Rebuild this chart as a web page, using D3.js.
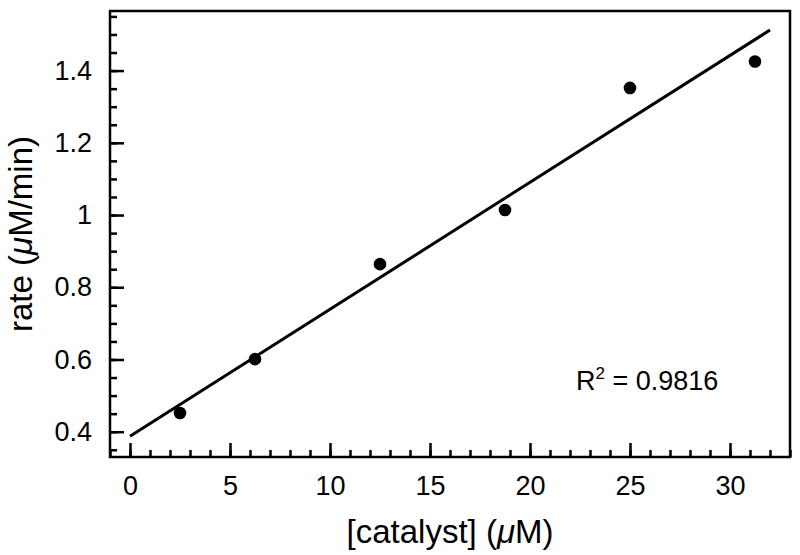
<!DOCTYPE html>
<head>
  <meta charset="utf-8">
  <script src="https://d3js.org/d3.v7.min.js"></script>
  <style>
    body { margin: 0; background: #fff; }
    text { font-family: "Liberation Sans", Arial, Helvetica, sans-serif; fill: #000; }
    .axis path { display: none; }
    .axis line { stroke: #000; stroke-width: 2.5; }
    .axis text { font-size: 27px; }
    .title { font-size: 33px; }
  </style>
</head>
<body>
<script>

  // catalyst concentration (uM) and measured rate (uM/min)
  var catalyst = [2.5, 6.25, 12.5, 18.75, 25, 31.25];
  var rate = [0.452, 0.601, 0.864, 1.014, 1.352, 1.425];
  var xTicks = [0, 5, 10, 15, 20, 25, 30];
  var yTicks = [0.4, 0.6, 0.8, 1, 1.2, 1.4];
  var r2Label = "0.9816";

  var margin = { top: 11, right: 10, bottom: 98, left: 110 };
  var width = 800 - margin.left - margin.right;
  var height = 555 - margin.top - margin.bottom;

  var svg = d3.select("body").append("svg")
      .attr("width", 800)
      .attr("height", 555)
    .append("g")
      .attr("transform", "translate(" + margin.left + "," + margin.top + ")");

  var x = d3.scaleLinear().domain([-1, 33]).range([0, width]);
  var y = d3.scaleLinear().domain([0.33, 1.565]).range([height, 0]);

  // minor ticks
  svg.append("g")
      .attr("class", "axis")
      .attr("transform", "translate(0," + height + ")")
      .call(d3.axisBottom(x).tickValues(d3.range(-1, 34, 1)).tickSize(-7).tickFormat(""));

  svg.append("g")
      .attr("class", "axis")
      .call(d3.axisLeft(y).tickValues(d3.range(0.35, 1.56, 0.05)).tickSize(-7).tickFormat(""));

  // major ticks
  svg.append("g")
      .attr("class", "axis")
      .attr("transform", "translate(0," + height + ")")
      .call(d3.axisBottom(x).tickValues(xTicks).tickSize(-14).tickPadding(19).tickFormat(d3.format("d")));

  svg.append("g")
      .attr("class", "axis")
      .call(d3.axisLeft(y).tickValues(yTicks).tickSize(-14).tickPadding(18).tickFormat(function(d) { return String(d); }));

  svg.append("rect")
      .attr("width", width)
      .attr("height", height)
      .attr("fill", "none")
      .attr("stroke", "#000")
      .attr("stroke-width", 2.5);

  // least squares fit
  var mx = d3.mean(catalyst), my = d3.mean(rate);
  var sxy = d3.sum(catalyst, function(d, i) { return (d - mx) * (rate[i] - my); });
  var sxx = d3.sum(catalyst, function(d) { return (d - mx) * (d - mx); });
  var slope = sxy / sxx, intercept = my - slope * mx;

  svg.append("line")
      .attr("x1", x(0)).attr("y1", y(intercept))
      .attr("x2", x(32)).attr("y2", y(intercept + slope * 32))
      .attr("stroke", "#000")
      .attr("stroke-width", 3);

  svg.selectAll(".dot")
      .data(catalyst)
    .enter().append("circle")
      .attr("class", "dot")
      .attr("cx", function(d) { return x(d); })
      .attr("cy", function(d, i) { return y(rate[i]); })
      .attr("r", 6.3)
      .attr("fill", "#000");

  var r2 = svg.append("text")
      .attr("x", 466)
      .attr("y", 379)
      .style("font-size", "27px");
  r2.append("tspan").text("R");
  r2.append("tspan").attr("dy", -11).style("font-size", "17px").text("2");
  r2.append("tspan").attr("dy", 11).text(" = " + r2Label);

  var xt = svg.append("text")
      .attr("class", "title")
      .attr("x", width / 2)
      .attr("y", 532)
      .attr("text-anchor", "middle");
  xt.append("tspan").text("[catalyst] (");
  xt.append("tspan").style("font-style", "italic").text("\u03bc");
  xt.append("tspan").text("M)");

  var yt = svg.append("text")
      .attr("class", "title")
      .attr("transform", "translate(-78," + (height / 2) + ") rotate(-90)")
      .attr("text-anchor", "middle");
  yt.append("tspan").text("rate (");
  yt.append("tspan").style("font-style", "italic").text("\u03bc");
  yt.append("tspan").text("M/min)");

</script>
</body>
